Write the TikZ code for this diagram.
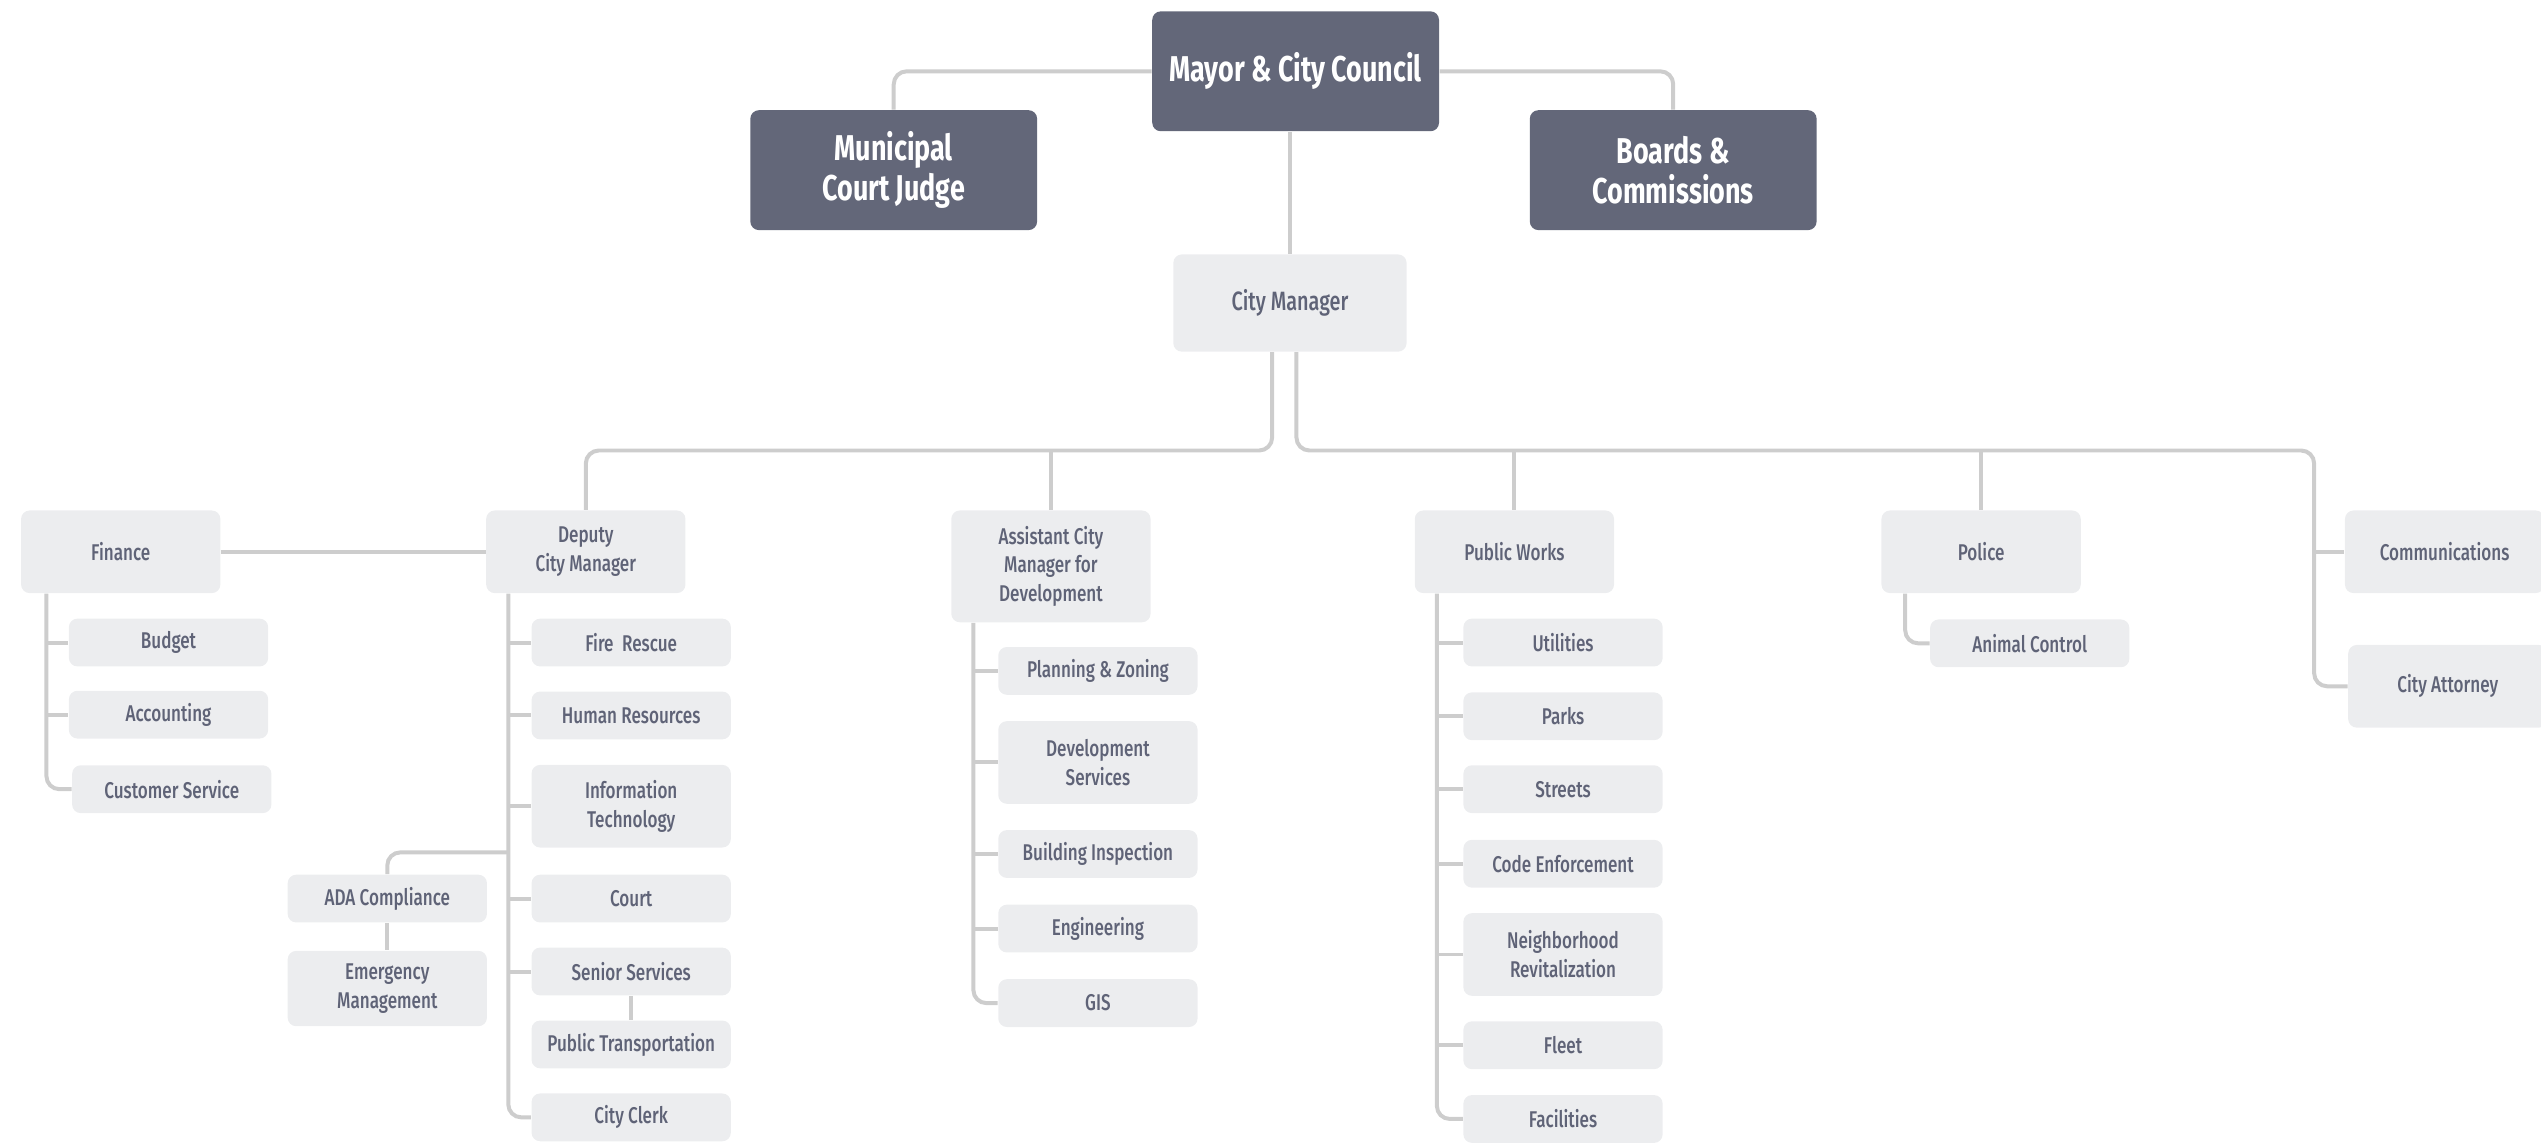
\documentclass[tikz,border=0pt]{standalone}
\usepackage{fontspec}
\setmainfont{Fira Sans Medium}[FakeStretch=0.75,BoldFont={Fira Sans Bold}]
\usetikzlibrary{calc}
\definecolor{slate}{HTML}{636779}
\definecolor{boxgray}{HTML}{ECEDEF}
\definecolor{labelgray}{HTML}{5F6377}
\definecolor{linegray}{HTML}{CDCDCD}
\tikzset{
  head/.style={fill=slate,text=white,rounded corners=3pt,minimum width=3.54cm,minimum height=1.48cm,align=center,font=\bfseries\fontsize{12.6}{14.2}\selectfont},
  mgr/.style={fill=boxgray,text=labelgray,rounded corners=3pt,minimum width=2.88cm,minimum height=1.2cm,align=center,font=\fontsize{9.3}{11}\selectfont},
  dept/.style={fill=boxgray,text=labelgray,rounded corners=3pt,minimum width=2.46cm,minimum height=1.02cm,align=center,font=\fontsize{8}{10}\selectfont},
  unit/.style={fill=boxgray,text=labelgray,rounded corners=3pt,minimum width=2.46cm,minimum height=0.59cm,align=center,font=\fontsize{8}{10.2}\selectfont},
  tall/.style={minimum height=1.02cm},
  link/.style={draw=linegray,line width=1.4pt,rounded corners=0.16cm}
}
\begin{document}
\begin{tikzpicture}[x=0.02cm,y=-0.02cm]
\useasboundingbox (0,0) rectangle (1568,705);
\clip (0,0) rectangle (1568,705);
% top
\node[head] (mayor) at (799.5,44) {Mayor \& City Council};
\node[head] (judge) at (551.5,105) {Municipal\\Court Judge};
\node[head] (boards) at (1032.5,105) {Boards \&\\Commissions};
\node[mgr] (cm) at (796,187) {City Manager};
% departments
\node[dept] (fin) at (74.5,340.5) {Finance};
\node[dept] (deputy) at (361.5,340.5) {Deputy\\City Manager};
\node[dept,minimum height=1.38cm] (asst) at (648.5,349.5) {Assistant City\\Manager for\\Development};
\node[dept] (pw) at (934.5,340.5) {Public Works};
\node[dept] (police) at (1222.5,340.5) {Police};
\node[dept] (comm) at (1508.5,340.5) {Communications};
\node[dept] (atty) at (1510.5,423.5) {City Attorney};
% finance
\node[unit] (budget) at (104,396.5) {Budget};
\node[unit] (acct) at (104,441) {Accounting};
\node[unit] (cust) at (106,487) {Customer Service};
% deputy
\node[unit] (fire) at (389.5,396.5) {Fire\ \ Rescue};
\node[unit] (hr) at (389.5,441.5) {Human Resources};
\node[unit,tall] (it) at (389.5,497.5) {Information\\Technology};
\node[unit] (ada) at (239,554.5) {ADA Compliance};
\node[unit,minimum height=0.93cm] (emerg) at (239,610) {Emergency\\Management};
\node[unit] (court) at (389.5,554.5) {Court};
\node[unit] (senior) at (389.5,599.5) {Senior Services};
\node[unit] (pt) at (389.5,644.5) {Public Transportation};
\node[unit] (clerk) at (389.5,689.5) {City Clerk};
% assistant
\node[unit] (plan) at (677.5,414) {Planning \& Zoning};
\node[unit,tall] (dev) at (677.5,470.5) {Development\\Services};
\node[unit] (bldg) at (677.5,527) {Building Inspection};
\node[unit] (eng) at (677.5,573) {Engineering};
\node[unit] (gis) at (677.5,619) {GIS};
% public works
\node[unit] (util) at (964.5,396.5) {Utilities};
\node[unit] (parks) at (964.5,442) {Parks};
\node[unit] (streets) at (964.5,487) {Streets};
\node[unit] (code) at (964.5,533) {Code Enforcement};
\node[unit,tall] (nbhd) at (964.5,589) {Neighborhood\\Revitalization};
\node[unit] (fleet) at (964.5,645) {Fleet};
\node[unit] (fac) at (964.5,690.5) {Facilities};
% police
\node[unit] (animal) at (1252.5,397) {Animal Control};
% connectors
\coordinate (bus) at (0,278);
\coordinate (rspine) at (1428,0);
\coordinate (adabr) at (0,526);
\draw[link] (mayor.west) -| (judge.north);
\draw[link] (mayor.east) -| (boards.north);
\draw[link] (cm.north |- mayor.south) -- (cm.north);
\draw[link] ($(cm.south)+(-11,0)$) |- (deputy.north |- bus) -- (deputy.north);
\draw[link] ($(cm.south)+(4,0)$) |- (rspine |- bus) |- (atty.west);
\foreach \n in {asst,pw,police}
  \draw[link] (\n.north |- bus) -- (\n.north);
\draw[link] (rspine |- comm.west) -- (comm.west);
\draw[link] (fin.east) -- (deputy.west);
\coordinate (finsp) at ($(fin.south west)+(16,0)$);
\draw[link] (finsp) |- (cust.west);
\foreach \n in {budget,acct}
  \draw[link] (finsp |- \n.west) -- (\n.west);
\coordinate (depsp) at ($(deputy.south west)+(14,0)$);
\draw[link] (depsp) |- (clerk.west);
\foreach \n in {fire,hr,it,court,senior}
  \draw[link] (depsp |- \n.west) -- (\n.west);
\draw[link] (depsp |- adabr) -| (ada.north);
\draw[link] (ada.south) -- (emerg.north);
\draw[link] (senior.south) -- (pt.north);
\coordinate (asp) at ($(asst.south west)+(14,0)$);
\draw[link] (asp) |- (gis.west);
\foreach \n in {plan,dev,bldg,eng}
  \draw[link] (asp |- \n.west) -- (\n.west);
\coordinate (pwsp) at ($(pw.south west)+(14,0)$);
\draw[link] (pwsp) |- (fac.west);
\foreach \n in {util,parks,streets,code,nbhd,fleet}
  \draw[link] (pwsp |- \n.west) -- (\n.west);
\draw[link] ($(police.south west)+(15,0)$) |- (animal.west);
\end{tikzpicture}
\end{document}
